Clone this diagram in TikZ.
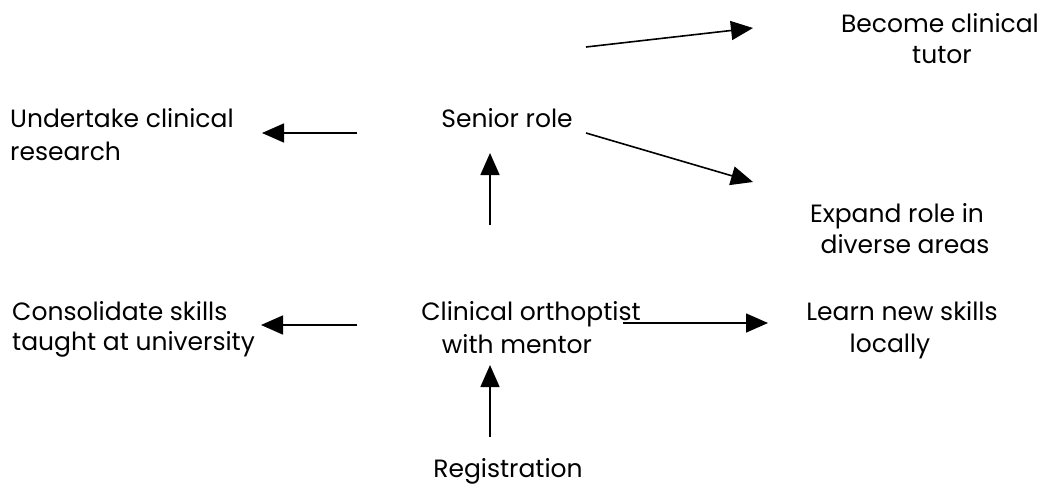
\documentclass[tikz,border=0pt]{standalone}
\usepackage{fontspec}
\setmainfont{Poppins}
\usetikzlibrary{arrows.meta}
\tikzset{
  lbl/.style={inner sep=0pt, anchor=base, font=\fontsize{25}{30}\selectfont},
  lbll/.style={lbl, anchor=base west},
  arr/.style={line width=1.6pt, -{Triangle[length=22pt,width=19pt]}}
}
\begin{document}
\begin{tikzpicture}[x=1pt,y=-1pt]
\useasboundingbox (0,0) rectangle (1050,488);
% texts
\node[lbl] (tutor1) at (940,32) {Become clinical};
\node[lbl] (tutor2) at (942,63) {tutor};
\node[lbll] (res1) at (10,127) {Undertake clinical};
\node[lbll] (res2) at (10,160) {research};
\node[lbl] (senior) at (507,127) {Senior role};
\node[lbl] (exp1) at (897,222) {Expand role in};
\node[lbl] (exp2) at (905,253) {diverse areas};
\node[lbll] (cons1) at (12,320) {Consolidate skills};
\node[lbll] (cons2) at (12,350) {taught at university};
\node[lbl] (orth1) at (531,320) {Clinical orthoptist};
\node[lbl] (orth2) at (517,353) {with mentor};
\node[lbl] (learn1) at (902,320) {Learn new skills};
\node[lbl] (learn2) at (890,352) {locally};
\node[lbl] (reg) at (508,477) {Registration};
% arrow end points
\coordinate (a1s) at (586,47); \coordinate (a1e) at (753,28);
\coordinate (a2s) at (357,133); \coordinate (a2e) at (262,133);
\coordinate (a3s) at (586,133); \coordinate (a3e) at (753,182);
\coordinate (a4s) at (490,225); \coordinate (a4e) at (490,153);
\coordinate (a5s) at (357,325); \coordinate (a5e) at (261,325);
\coordinate (a6s) at (623,323); \coordinate (a6e) at (768,323);
\coordinate (a7s) at (490,437); \coordinate (a7e) at (490,365);
\draw[arr] (a1s) -- (a1e);
\draw[arr] (a2s) -- (a2e);
\draw[arr] (a3s) -- (a3e);
\draw[arr] (a4s) -- (a4e);
\draw[arr] (a5s) -- (a5e);
\draw[arr] (a6s) -- (a6e);
\draw[arr] (a7s) -- (a7e);
\end{tikzpicture}
\end{document}
